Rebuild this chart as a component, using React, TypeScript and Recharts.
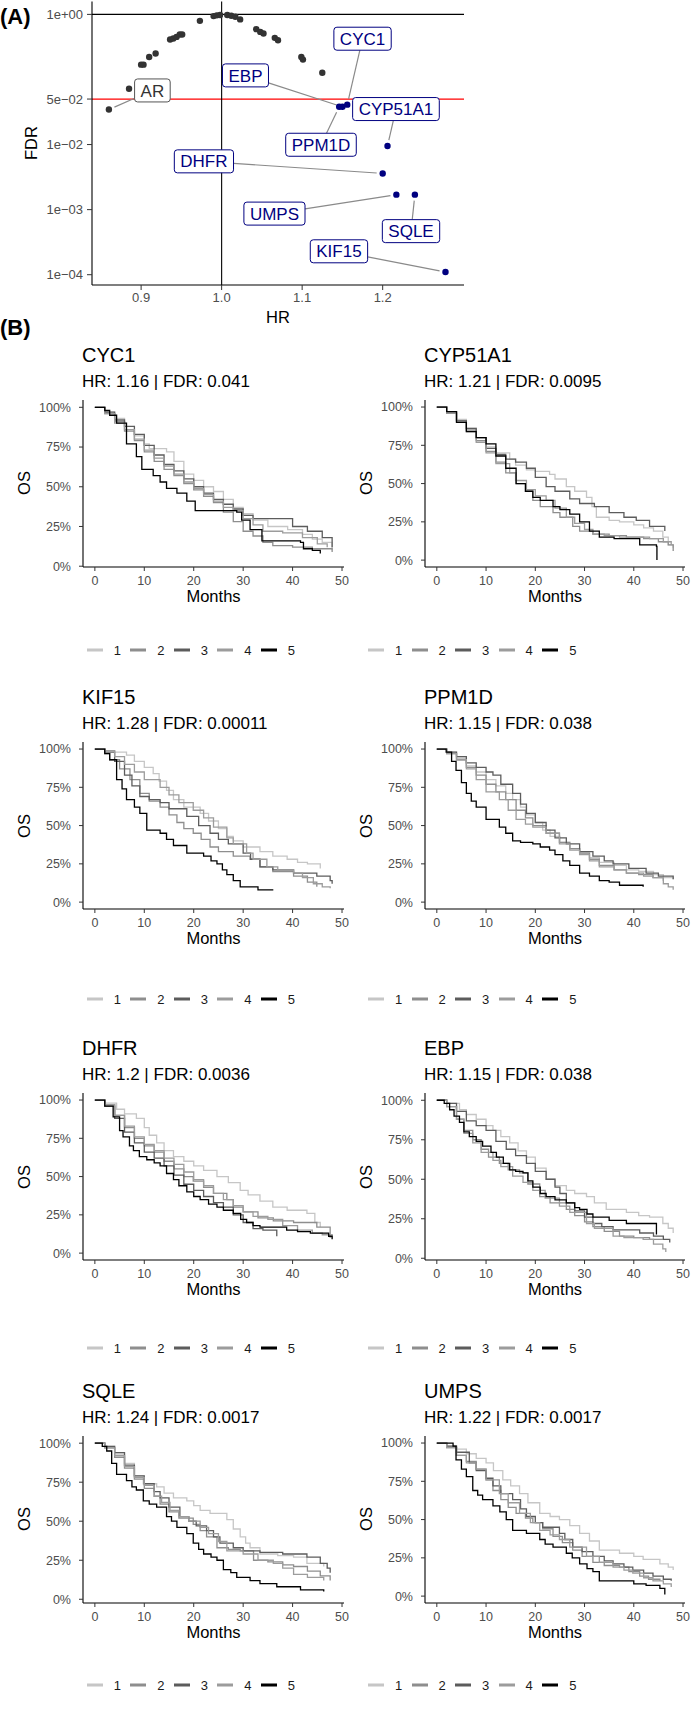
import React from "react";
import { ScatterChart, Scatter, LineChart, Line, XAxis, YAxis, ReferenceLine } from "recharts";

const FONT = '"Liberation Sans", Arial, Helvetica, sans-serif';

// ---------- panel A : volcano-like HR vs FDR ----------
const hrTicks = [0.9, 1.0, 1.1, 1.2];
const fdrTicks = [1e-4, 1e-3, 1e-2, 5e-2, 1];

// genes that did not pass (AR first)
const otherHR = [0.86, 0.885, 0.9, 0.903, 0.91, 0.918, 0.936, 0.94, 0.944, 0.948, 0.951, 0.973, 0.99, 0.994, 0.998, 1.007, 1.012, 1.017, 1.023, 1.043, 1.048, 1.052, 1.066, 1.07, 1.099, 1.101, 1.125];
const otherFDR = [0.0345, 0.072, 0.169, 0.169, 0.221, 0.25, 0.411, 0.426, 0.451, 0.491, 0.491, 0.796, 0.942, 0.966, 0.977, 0.977, 0.955, 0.918, 0.838, 0.593, 0.538, 0.509, 0.436, 0.401, 0.221, 0.202, 0.127];

const sigGenes = ["PPM1D", "EBP", "CYC1", "CYP51A1", "DHFR", "UMPS", "SQLE", "KIF15"];
const sigHR = [1.146, 1.15, 1.156, 1.206, 1.2, 1.217, 1.24, 1.278];
const sigFDR = [0.038, 0.038, 0.041, 0.0095, 0.0036, 0.0017, 0.0017, 0.00011];

// where the repelled labels sit (data units)
const labelGenes = ["CYC1", "EBP", "CYP51A1", "PPM1D", "DHFR", "UMPS", "SQLE", "KIF15", "AR"];
const labelAtHR = [1.175, 1.0296, 1.2165, 1.1234, 0.978, 1.0656, 1.2352, 1.1457, 0.914];
const labelAtFDR = [0.423, 0.1155, 0.0351, 0.00993, 0.00552, 0.000869, 0.000467, 0.000229, 0.0678];

// ---------- panel B : KM curves, [month, surv, month, surv, ...] per group ----------
const groupNames = ["1", "2", "3", "4", "5"];
const groupColors = ["#c6c6c6", "#8e8e8e", "#5c5c5c", "#9c9c9c", "#000000"];
const monthTicks = [0, 10, 20, 30, 40, 50];
const survTicks = [0, 0.25, 0.5, 0.75, 1];

const cyc1 = [
  [0, 1, 2, 0.97, 4, 0.93, 6, 0.86, 8, 0.82, 10, 0.77, 11, 0.74, 14.5, 0.72, 16, 0.66, 18, 0.58, 20, 0.54, 22, 0.5, 24, 0.47, 26, 0.42, 28, 0.37, 30, 0.33, 32, 0.29, 35, 0.25, 39, 0.23, 42, 0.2, 44, 0.17, 46, 0.15, 48, 0.1],
  [0, 1, 2, 0.96, 4, 0.91, 6, 0.85, 8, 0.79, 10, 0.72, 12, 0.66, 14, 0.61, 16, 0.57, 18, 0.52, 20, 0.48, 22, 0.44, 24, 0.4, 26, 0.34, 28, 0.28, 30, 0.22, 32, 0.19, 34, 0.15, 36, 0.13, 40, 0.12, 44, 0.11, 48, 0.09],
  [0, 1, 2, 0.97, 4, 0.92, 6, 0.88, 8, 0.83, 10, 0.76, 12, 0.7, 14, 0.64, 16, 0.6, 18, 0.55, 20, 0.5, 22, 0.46, 24, 0.42, 26, 0.39, 28, 0.36, 30, 0.32, 32, 0.3, 36, 0.3, 40, 0.25, 43, 0.22, 46, 0.18, 48, 0.12],
  [0, 1, 2, 0.96, 4, 0.9, 6, 0.86, 8, 0.8, 10, 0.73, 12, 0.68, 14, 0.63, 16, 0.58, 18, 0.53, 20, 0.49, 22, 0.45, 24, 0.41, 26, 0.37, 28, 0.35, 30, 0.3, 32, 0.26, 34, 0.22, 38, 0.21, 42, 0.18, 45, 0.14, 47, 0.12],
  [0, 1, 2, 0.98, 3, 0.95, 4.4, 0.9, 6.4, 0.77, 8.4, 0.69, 9.5, 0.61, 11.8, 0.57, 13.2, 0.53, 14.5, 0.49, 16.6, 0.46, 18.6, 0.41, 20.3, 0.35, 28.7, 0.34, 29.7, 0.29, 31.4, 0.23, 33.8, 0.16, 41.6, 0.15, 42.2, 0.11, 44, 0.1, 45.6, 0.08],
];
const cyp51a1 = [
  [0, 1, 2, 0.97, 4, 0.92, 6, 0.86, 8, 0.8, 10, 0.74, 12, 0.7, 14.8, 0.66, 16, 0.62, 18.2, 0.59, 20, 0.58, 22.9, 0.56, 24, 0.53, 26.3, 0.48, 28, 0.45, 30.4, 0.41, 31.5, 0.35, 32.4, 0.28, 35, 0.26, 37.1, 0.25, 40, 0.23, 42, 0.21, 44, 0.19, 45.9, 0.15, 47, 0.1, 48, 0.08],
  [0, 1, 2, 0.97, 4, 0.91, 6, 0.85, 8, 0.78, 10, 0.71, 12, 0.64, 14, 0.57, 16.1, 0.5, 18, 0.45, 19.5, 0.39, 21, 0.35, 23.6, 0.31, 25, 0.28, 27.6, 0.22, 29, 0.19, 31.7, 0.17, 35, 0.16, 38.5, 0.15, 42, 0.14, 45, 0.12, 47, 0.1, 48, 0.06],
  [0, 1, 2, 0.96, 4, 0.91, 6, 0.86, 8, 0.8, 10, 0.73, 12, 0.69, 14, 0.66, 16, 0.64, 18.2, 0.6, 20, 0.54, 22.2, 0.48, 24, 0.45, 27, 0.4, 29, 0.37, 32, 0.35, 35, 0.31, 38, 0.28, 40.5, 0.26, 43.2, 0.22, 46.3, 0.19],
  [0, 1, 2, 0.96, 4, 0.9, 6, 0.84, 8, 0.77, 10, 0.7, 12, 0.63, 14.8, 0.57, 16, 0.52, 18.2, 0.46, 20, 0.42, 22.2, 0.39, 24, 0.34, 26.3, 0.28, 28, 0.24, 30, 0.2, 31.7, 0.17, 34, 0.16, 37.1, 0.15, 40, 0.15, 43.2, 0.14, 46, 0.12, 47.6, 0.1],
  [0, 1, 2, 0.97, 4, 0.9, 6, 0.84, 8, 0.8, 10, 0.76, 12, 0.68, 14, 0.6, 16.1, 0.5, 18, 0.45, 19.5, 0.41, 21, 0.39, 23.6, 0.35, 25, 0.33, 27, 0.3, 29, 0.25, 31, 0.19, 33, 0.15, 36, 0.14, 39.8, 0.14, 41.2, 0.1, 44.6, 0.09, 44.7, 0],
];
const kif15 = [
  [0, 1, 2, 0.99, 4, 0.98, 6.4, 0.96, 8, 0.92, 10, 0.88, 11.8, 0.84, 13, 0.79, 14.5, 0.73, 15.9, 0.67, 18, 0.62, 21.3, 0.58, 23, 0.53, 25, 0.48, 26.7, 0.43, 28, 0.4, 30, 0.36, 33.4, 0.33, 36, 0.3, 38.9, 0.28, 41, 0.26, 43, 0.25, 45.6, 0.22],
  [0, 1, 2, 0.97, 3, 0.93, 5, 0.87, 7.1, 0.8, 9.1, 0.71, 11, 0.66, 13.2, 0.62, 15, 0.57, 16.6, 0.52, 18, 0.48, 19.9, 0.45, 21.5, 0.41, 23.3, 0.36, 25, 0.33, 28, 0.3, 31.4, 0.28, 33.4, 0.23, 36, 0.2, 40.2, 0.17, 43, 0.13, 44.9, 0.1],
  [0, 1, 2, 0.98, 4, 0.92, 6, 0.83, 7.5, 0.76, 9.1, 0.69, 11, 0.67, 13.2, 0.65, 15, 0.61, 18.6, 0.56, 21, 0.5, 23.3, 0.45, 25, 0.41, 27, 0.38, 30, 0.32, 31.5, 0.28, 33.4, 0.23, 36, 0.21, 40.2, 0.19, 44.9, 0.17, 47.6, 0.14, 48, 0.12],
  [0, 1, 2, 0.99, 4, 0.95, 6, 0.9, 8, 0.85, 10, 0.8, 13.2, 0.75, 15, 0.7, 17, 0.65, 19.9, 0.6, 22, 0.55, 24, 0.49, 26.7, 0.42, 28, 0.38, 30.7, 0.32, 32, 0.28, 34.8, 0.23, 37, 0.21, 40.2, 0.19, 42, 0.16, 44.2, 0.12, 46, 0.1, 47.6, 0.09],
  [0, 1, 2, 0.97, 3, 0.93, 4.4, 0.8, 5.5, 0.74, 6.4, 0.67, 8, 0.62, 9.1, 0.58, 10.5, 0.47, 13.2, 0.45, 14.5, 0.41, 15.9, 0.37, 18.6, 0.32, 22, 0.3, 23.5, 0.27, 24.7, 0.25, 25.8, 0.21, 26.7, 0.18, 28, 0.14, 29.4, 0.1, 33, 0.08, 36.1, 0.08],
];
const ppm1d = [
  [0, 1, 2, 0.98, 4, 0.94, 6, 0.89, 8, 0.85, 10, 0.8, 12, 0.76, 14, 0.71, 15.4, 0.67, 17, 0.62, 18.2, 0.57, 20, 0.52, 21.5, 0.47, 23, 0.43, 25, 0.39, 27, 0.35, 29, 0.32, 31, 0.29, 33, 0.26, 36, 0.24, 38.5, 0.21, 41, 0.2, 44, 0.18, 46, 0.16, 48, 0.15],
  [0, 1, 2, 0.97, 4, 0.93, 6, 0.88, 8, 0.83, 10, 0.77, 12, 0.72, 14, 0.67, 16.1, 0.6, 18, 0.55, 19.5, 0.5, 22.2, 0.45, 24.9, 0.39, 27, 0.35, 29, 0.32, 31, 0.28, 33, 0.24, 36, 0.21, 38.5, 0.19, 41, 0.18, 43.9, 0.16, 46, 0.14],
  [0, 1, 2, 0.98, 4, 0.95, 6, 0.91, 8, 0.88, 10, 0.85, 11.4, 0.83, 13, 0.77, 15.4, 0.71, 17, 0.64, 18.2, 0.58, 20, 0.52, 22.2, 0.47, 24, 0.42, 26.3, 0.38, 29, 0.33, 31.7, 0.3, 34, 0.27, 35.8, 0.25, 39, 0.22, 42.5, 0.19, 45, 0.17, 48, 0.15],
  [0, 1, 2, 0.97, 4, 0.93, 6, 0.87, 8, 0.8, 10, 0.72, 12.7, 0.67, 14.5, 0.6, 16.1, 0.54, 18, 0.51, 19.5, 0.49, 22.2, 0.45, 24.9, 0.38, 27, 0.34, 29, 0.31, 31, 0.27, 33, 0.23, 36, 0.21, 38.5, 0.19, 42, 0.17, 43.9, 0.16, 46, 0.12, 47, 0.1, 48, 0.08],
  [0, 1, 1.9, 0.98, 3, 0.92, 3.9, 0.86, 5, 0.78, 6, 0.71, 7, 0.66, 8, 0.62, 10, 0.54, 12.7, 0.49, 14, 0.45, 15.4, 0.4, 17, 0.39, 19.5, 0.38, 21, 0.36, 22.9, 0.34, 24, 0.31, 25.6, 0.27, 27, 0.24, 29, 0.19, 31, 0.17, 33, 0.14, 35, 0.13, 37.1, 0.11, 41.9, 0.1],
];
const dhfr = [
  [0, 1, 2, 0.98, 4.4, 0.94, 6, 0.91, 8.4, 0.88, 10, 0.82, 11, 0.77, 12.5, 0.72, 14, 0.67, 15.9, 0.63, 18, 0.6, 20, 0.57, 22, 0.54, 24.7, 0.5, 27, 0.46, 29.4, 0.41, 31, 0.38, 33.4, 0.34, 36, 0.3, 38.9, 0.28, 42.9, 0.26, 44.5, 0.2, 45.6, 0.17],
  [0, 1, 2, 0.97, 4, 0.9, 6, 0.82, 8, 0.75, 10, 0.7, 12, 0.66, 14, 0.6, 16, 0.55, 18, 0.5, 19.9, 0.47, 22, 0.43, 24, 0.39, 26.7, 0.35, 28, 0.3, 30, 0.27, 33, 0.23, 36.1, 0.21, 40.2, 0.2, 44.9, 0.17, 47.6, 0.1],
  [0, 1, 2, 0.96, 4, 0.88, 6, 0.79, 8, 0.72, 10, 0.66, 12, 0.62, 14, 0.57, 16, 0.51, 18, 0.45, 20, 0.41, 22, 0.37, 24, 0.33, 26, 0.3, 28, 0.25, 30, 0.2, 32, 0.16, 34, 0.15, 36.8, 0.11],
  [0, 1, 2, 0.97, 4, 0.9, 6, 0.83, 8, 0.76, 10, 0.71, 12, 0.67, 14, 0.62, 16, 0.58, 18, 0.53, 20, 0.48, 22, 0.44, 24, 0.39, 26, 0.35, 28, 0.31, 30, 0.27, 32, 0.24, 35, 0.22, 38, 0.18, 41, 0.15, 44, 0.13, 46, 0.12, 48, 0.1],
  [0, 1, 2, 0.96, 3.7, 0.89, 5, 0.8, 5.7, 0.76, 7, 0.7, 7.8, 0.67, 9, 0.63, 10.5, 0.61, 12, 0.59, 13.2, 0.57, 14.5, 0.52, 15.9, 0.48, 17, 0.44, 18.6, 0.4, 20, 0.37, 21.3, 0.35, 23, 0.32, 24.7, 0.3, 26, 0.28, 28, 0.26, 29.5, 0.22, 30.7, 0.2, 32, 0.18, 33.4, 0.17, 38.8, 0.15, 41, 0.14, 43.6, 0.13, 47.3, 0.11, 48, 0.09],
];
const ebp = [
  [0, 1, 2, 0.98, 4.6, 0.94, 6, 0.91, 8, 0.88, 10, 0.84, 11.4, 0.81, 13, 0.77, 14.8, 0.73, 16.5, 0.68, 18.2, 0.64, 20, 0.57, 22.2, 0.5, 24, 0.46, 26.3, 0.43, 28, 0.41, 30.4, 0.39, 32, 0.35, 34.4, 0.31, 38.5, 0.29, 41, 0.27, 43.2, 0.26, 45.9, 0.22, 47, 0.19, 48, 0.16],
  [0, 1, 2, 0.96, 4, 0.88, 5.5, 0.81, 7.3, 0.75, 9, 0.69, 10.5, 0.64, 12.7, 0.6, 14.5, 0.56, 16.8, 0.54, 18.5, 0.47, 20.9, 0.39, 23, 0.35, 26.3, 0.31, 28, 0.27, 30, 0.23, 31.7, 0.2, 34, 0.17, 37.1, 0.14, 40, 0.13, 43.2, 0.12, 45.9, 0.12],
  [0, 1, 2, 0.98, 4, 0.93, 6, 0.87, 8, 0.84, 10, 0.81, 12, 0.74, 14.1, 0.69, 16, 0.65, 18.2, 0.6, 20, 0.55, 22.2, 0.5, 24, 0.45, 25, 0.41, 26.3, 0.35, 28, 0.3, 30, 0.26, 31.7, 0.22, 33.5, 0.2, 35.8, 0.18, 41.2, 0.16, 44, 0.14, 46, 0.12, 47.3, 0.1],
  [0, 1, 2, 0.96, 4, 0.88, 5.5, 0.79, 7.3, 0.73, 9, 0.67, 11.4, 0.62, 13, 0.58, 15.4, 0.52, 17.5, 0.48, 19.5, 0.43, 22, 0.38, 24.9, 0.33, 27, 0.29, 30.4, 0.22, 32, 0.19, 35.8, 0.14, 38, 0.13, 41.9, 0.12, 44, 0.09, 45.9, 0.06, 46.5, 0.04],
  [0, 1, 1.5, 0.98, 2.6, 0.94, 3.5, 0.9, 4.6, 0.86, 5.5, 0.8, 6.6, 0.77, 8, 0.74, 9.3, 0.71, 11, 0.67, 12.1, 0.64, 13.5, 0.6, 14.8, 0.56, 16, 0.55, 17.5, 0.54, 18.5, 0.49, 19.5, 0.45, 21, 0.41, 22.2, 0.39, 24, 0.37, 26.3, 0.35, 28, 0.32, 29, 0.31, 30.5, 0.28, 31.7, 0.26, 35, 0.24, 38.5, 0.22, 43.9, 0.22, 44.6, 0.15],
];
const sqle = [
  [0, 1, 2, 0.98, 4, 0.93, 6, 0.87, 8, 0.79, 9.8, 0.74, 12.5, 0.72, 14, 0.68, 15.9, 0.65, 18.6, 0.63, 20, 0.6, 21.3, 0.57, 23.3, 0.55, 26.7, 0.51, 28, 0.45, 29.4, 0.4, 30.5, 0.36, 31.4, 0.33, 33.4, 0.29, 37, 0.28, 40.2, 0.27, 42.9, 0.23, 46.3, 0.21],
  [0, 1, 2, 0.97, 4, 0.91, 6, 0.84, 8, 0.77, 10, 0.71, 12, 0.66, 13.2, 0.61, 15, 0.56, 17, 0.52, 19.9, 0.48, 21.3, 0.44, 22.6, 0.4, 24.7, 0.33, 27, 0.32, 29.4, 0.31, 32.1, 0.25, 35, 0.24, 38, 0.22, 40.2, 0.21, 43, 0.18, 45.6, 0.15, 47.6, 0.12],
  [0, 1, 2, 0.98, 4, 0.94, 6, 0.86, 8, 0.79, 10, 0.74, 12, 0.69, 13.2, 0.65, 15, 0.59, 17.2, 0.53, 19, 0.5, 20.5, 0.47, 22.6, 0.44, 24, 0.4, 25.3, 0.36, 28, 0.33, 30, 0.31, 33.4, 0.3, 38, 0.29, 42.9, 0.27, 45.6, 0.23, 47, 0.2, 47.6, 0.17],
  [0, 1, 2, 0.97, 4, 0.92, 6, 0.85, 8, 0.78, 10, 0.73, 12, 0.66, 13.5, 0.62, 15.2, 0.57, 17, 0.53, 19, 0.5, 21.3, 0.46, 23, 0.42, 25, 0.37, 26.7, 0.31, 30, 0.29, 33, 0.25, 36.1, 0.23, 38, 0.2, 40.2, 0.16, 43, 0.14, 46.3, 0.12],
  [0, 1, 1.5, 0.98, 2.4, 0.95, 3.4, 0.87, 4.4, 0.8, 6.4, 0.76, 7.5, 0.72, 8.4, 0.7, 9.8, 0.63, 11, 0.61, 12.5, 0.59, 14.5, 0.53, 15.5, 0.5, 16.6, 0.46, 18.6, 0.42, 19.9, 0.36, 21, 0.32, 22, 0.29, 23.5, 0.27, 24.7, 0.25, 26, 0.19, 27.5, 0.17, 28.7, 0.14, 31.4, 0.12, 33.4, 0.1, 36.8, 0.08, 41.6, 0.06, 46.3, 0.05],
];
const umps = [
  [0, 1, 2, 0.98, 4, 0.96, 6, 0.93, 8, 0.9, 10, 0.87, 11.5, 0.82, 13.4, 0.76, 15, 0.72, 16.8, 0.67, 18.5, 0.61, 20.9, 0.54, 23, 0.52, 24.9, 0.5, 27, 0.46, 29, 0.41, 31, 0.36, 33, 0.3, 37.1, 0.28, 40, 0.26, 41.9, 0.24, 45.3, 0.21, 47, 0.19, 48, 0.17],
  [0, 1, 2, 0.97, 4, 0.92, 6, 0.88, 8, 0.83, 10, 0.76, 11.4, 0.69, 13, 0.63, 14.5, 0.58, 16.1, 0.54, 18, 0.51, 19.5, 0.48, 21.5, 0.44, 23.6, 0.39, 25.5, 0.35, 27.6, 0.3, 29.5, 0.26, 31.7, 0.22, 34, 0.2, 37.1, 0.19, 39, 0.16, 41.2, 0.13, 43, 0.11, 45.3, 0.1],
  [0, 1, 2, 0.98, 4, 0.94, 6.6, 0.87, 8, 0.82, 10, 0.77, 11.4, 0.72, 13, 0.67, 15.4, 0.63, 17, 0.57, 18.2, 0.52, 20, 0.48, 21.5, 0.45, 24.9, 0.41, 26, 0.37, 27.6, 0.32, 29.5, 0.29, 31.7, 0.26, 34, 0.23, 35.8, 0.21, 38, 0.19, 39.8, 0.17, 42, 0.15, 43.9, 0.13, 46, 0.11, 47.6, 0.1],
  [0, 1, 2, 0.97, 4, 0.92, 6, 0.87, 8, 0.83, 10, 0.76, 12.7, 0.67, 14.5, 0.61, 16.8, 0.54, 19, 0.48, 20.9, 0.43, 23, 0.4, 24.9, 0.37, 27, 0.32, 30.4, 0.26, 33, 0.22, 35.8, 0.19, 38, 0.17, 39.8, 0.15, 42, 0.12, 43.9, 0.1, 46, 0.08, 47.6, 0.06],
  [0, 1, 2, 1, 3.3, 0.98, 3.9, 0.89, 5, 0.83, 6, 0.78, 7.3, 0.69, 8.3, 0.66, 9.3, 0.63, 11.4, 0.59, 12.8, 0.55, 14.1, 0.5, 15.4, 0.43, 18.2, 0.41, 20.9, 0.37, 22, 0.34, 23.6, 0.32, 26.3, 0.28, 27.5, 0.25, 29, 0.21, 30.5, 0.18, 31.7, 0.16, 33, 0.1, 38.5, 0.1, 40, 0.08, 42.5, 0.07, 45.3, 0.05, 46.3, 0.01],
];

const kmGenes = ["CYC1", "CYP51A1", "KIF15", "PPM1D", "DHFR", "EBP", "SQLE", "UMPS"];
const kmHR = [1.16, 1.21, 1.28, 1.15, 1.2, 1.15, 1.24, 1.22];
const kmFDR = [0.041, 0.0095, 0.00011, 0.038, 0.0036, 0.038, 0.0017, 0.0017];
const kmCurves = [cyc1, cyp51a1, kif15, ppm1d, dhfr, ebp, sqle, umps];
const kmYMin = [-0.005, -0.045, -0.045, -0.045, -0.045, -0.011, -0.024, -0.045];

// layout
const Y_MAX = 1.046;
const PANEL_H = 167;
const rowT100 = [407, 749.3, 1100.3, 1443];
const rowLegendY = [650, 999, 1348, 1685];
const colLeft = [0, 342];
const colPlotRight = [344, 685];
const colLegendX = [86.7, 368];
const Y_AXIS_W = 83;
const RIGHT_PAD = 11;

const NAVY = "#000080";

const charW: Record<string, number> = {
  A: 0.667, B: 0.667, C: 0.722, D: 0.722, E: 0.667, F: 0.611, H: 0.722, I: 0.278, K: 0.667,
  L: 0.556, M: 0.833, P: 0.667, Q: 0.778, R: 0.722, S: 0.667, U: 0.722, Y: 0.667,
};
const textW = (s: string, size: number) =>
  s.split("").reduce((a, c) => a + (charW[c] ?? 0.556), 0) * size;

const LABEL_SIZE = 17;
const boxOf = (gene: string) => ({ w: textW(gene, LABEL_SIZE) + 12, h: 23 });

const sci = (v: number) => {
  const e = Math.floor(Math.log10(v) + 1e-9);
  const m = Math.round(v / Math.pow(10, e));
  return `${m}e${e < 0 ? "\u2212" : "+"}${String(Math.abs(e)).padStart(2, "0")}`;
};
const pct = (v: number) => `${Math.round(v * 100)}%`;

function Txt(props: any) {
  const { x, y, size, children, bold, anchor, rotate, color } = props;
  const tx = anchor === "middle" ? "-50%" : "0";
  return (
    <div
      style={{
        position: "absolute", left: x, top: y, fontSize: size, lineHeight: 1,
        fontWeight: bold ? 700 : 400, color: color || "#000", whiteSpace: "nowrap",
        transform: `translate(${tx}, -50%)${rotate ? " rotate(-90deg)" : ""}`,
      }}
    >
      {children}
    </div>
  );
}

// leader from the point to the edge of the label box
const leaderShape = (gene: string) => (p: any) => {
  const { x1, y1, x2, y2 } = p;
  if (x1 == null) return <g />;
  const dx = x2 - x1, dy = y2 - y1;
  const len = Math.hypot(dx, dy) || 1;
  const { w, h } = boxOf(gene);
  const k = Math.min(Math.abs(dx) > 0 ? w / 2 / Math.abs(dx) : 1e9, Math.abs(dy) > 0 ? h / 2 / Math.abs(dy) : 1e9);
  const ex = x2 - dx * k, ey = y2 - dy * k;
  const gap = 6;
  return (
    <line x1={x1 + (dx / len) * gap} y1={y1 + (dy / len) * gap} x2={ex} y2={ey}
      stroke="#8a8a8a" strokeWidth={1.2} />
  );
};

const LabelBox = (p: any) => {
  const { cx, cy, payload } = p;
  const { w, h } = boxOf(payload.gene);
  return (
    <g>
      <rect x={cx - w / 2} y={cy - h / 2} width={w} height={h} rx={3} ry={3}
        fill="#fff" stroke={payload.border} strokeWidth={1} />
      <text x={cx} y={cy + LABEL_SIZE * 0.36} textAnchor="middle" fontSize={LABEL_SIZE}
        fill={payload.color} fontFamily={FONT}>{payload.gene}</text>
    </g>
  );
};

function pointOf(gene: string) {
  const i = sigGenes.indexOf(gene);
  if (i >= 0) return { hr: sigHR[i], fdr: sigFDR[i] };
  return { hr: otherHR[0], fdr: otherFDR[0] }; // AR
}

function PanelA() {
  const others = otherHR.map((hr, i) => ({ hr, fdr: otherFDR[i] }));
  const sig = sigHR.map((hr, i) => ({ hr, fdr: sigFDR[i] }));
  const labels = labelGenes.map((gene, i) => ({
    gene, hr: labelAtHR[i], fdr: labelAtFDR[i],
    color: gene === "AR" ? "#333333" : NAVY,
    border: gene === "AR" ? "#555555" : NAVY,
  }));
  const axisTick = { fill: "#4d4d4d", fontSize: 13, fontFamily: FONT };
  return (
    <div style={{ position: "absolute", left: 0, top: 0 }}>
      <ScatterChart width={697} height={330} margin={{ top: 1.5, right: 233, bottom: 0, left: 0 }}>
        <XAxis type="number" dataKey="hr" domain={[0.839, 1.301]} allowDataOverflow ticks={hrTicks}
          tickFormatter={(v: number) => v.toFixed(1)} interval={0} height={45} tickSize={5} tickMargin={3}
          axisLine={{ stroke: "#000", strokeWidth: 1.1 }} tickLine={{ stroke: "#333" }} tick={axisTick} />
        <YAxis type="number" dataKey="fdr" scale="log" domain={[Math.pow(10, -4.158), Math.pow(10, 0.198)]}
          allowDataOverflow ticks={fdrTicks} tickFormatter={sci} interval={0} width={92} tickSize={5} tickMargin={4}
          axisLine={{ stroke: "#000", strokeWidth: 1.1 }} tickLine={{ stroke: "#333" }} tick={axisTick} />
        <ReferenceLine y={1} stroke="#000" strokeWidth={1.1} />
        <ReferenceLine y={0.05} stroke="#ff0000" strokeWidth={1.2} />
        <ReferenceLine x={1} stroke="#000" strokeWidth={1.1} />
        {labelGenes.map((g, i) => {
          const pt = pointOf(g);
          return (
            <ReferenceLine key={g}
              segment={[{ x: pt.hr, y: pt.fdr }, { x: labelAtHR[i], y: labelAtFDR[i] }]}
              stroke="#8a8a8a" shape={leaderShape(g)} />
          );
        })}
        <Scatter data={others} fill="#333333" isAnimationActive={false}
          shape={(p: any) => <circle cx={p.cx} cy={p.cy} r={3.2} fill="#333333" />} />
        <Scatter data={sig} fill={NAVY} isAnimationActive={false}
          shape={(p: any) => <circle cx={p.cx} cy={p.cy} r={3.2} fill={NAVY} />} />
        <Scatter data={labels} isAnimationActive={false} shape={LabelBox} />
      </ScatterChart>
      <Txt x={0} y={17} size={22} bold>(A)</Txt>
      <Txt x={31} y={143} size={16.5} rotate anchor="middle">FDR</Txt>
      <Txt x={278} y={317} size={16.5} anchor="middle">HR</Txt>
    </div>
  );
}

function KMLegend({ x, y }: { x: number; y: number }) {
  return (
    <div style={{ position: "absolute", left: x, top: y, transform: "translateY(-50%)", display: "flex",
      alignItems: "center", fontSize: 13, lineHeight: 1, color: "#1a1a1a" }}>
      {groupNames.map((n, i) => (
        <React.Fragment key={n}>
          <span style={{ display: "inline-block", width: 16, height: 2.2, background: groupColors[i] }} />
          <span style={{ marginLeft: 11, marginRight: 9.3 }}>{n}</span>
        </React.Fragment>
      ))}
    </div>
  );
}

function KMPanel({ idx }: { idx: number }) {
  const row = Math.floor(idx / 2);
  const col = idx % 2;
  const yMin = kmYMin[idx];
  const t100 = rowT100[row];
  const top = t100 - (PANEL_H * (Y_MAX - 1)) / (Y_MAX - yMin);
  const left = colLeft[col];
  const plotL = left + Y_AXIS_W;
  const plotR = colPlotRight[col];
  const width = plotR - left + RIGHT_PAD;
  const series = kmCurves[idx].map((c) => {
    const pts: { t: number; s: number }[] = [];
    for (let i = 0; i < c.length; i += 2) pts.push({ t: c[i], s: c[i + 1] });
    return pts;
  });
  const tick = { fill: "#4d4d4d", fontSize: 12.5, fontFamily: FONT };
  return (
    <>
      <Txt x={plotL - 1} y={t100 - 52} size={20}>{kmGenes[idx]}</Txt>
      <Txt x={plotL - 1} y={t100 - 26.5} size={17}>{`HR: ${kmHR[idx]} | FDR: ${kmFDR[idx]}`}</Txt>
      <div style={{ position: "absolute", left, top }}>
        <LineChart width={width} height={PANEL_H + 25} margin={{ top: 0, right: RIGHT_PAD, bottom: 0, left: 0 }}>
          <XAxis type="number" dataKey="t" domain={[-2.4, 50.4]} allowDataOverflow ticks={monthTicks}
            interval={0} height={25} tickSize={4} tickMargin={5}
            axisLine={{ stroke: "#000", strokeWidth: 1.1 }} tickLine={{ stroke: "#333" }} tick={tick} />
          <YAxis type="number" domain={[yMin, Y_MAX]} allowDataOverflow ticks={survTicks} tickFormatter={pct}
            interval={0} width={Y_AXIS_W} tickSize={4} tickMargin={8}
            axisLine={{ stroke: "#000", strokeWidth: 1.1 }} tickLine={{ stroke: "#333" }} tick={tick} />
          {series.map((d, i) => (
            <Line key={i} data={d} dataKey="s" type="stepAfter" stroke={groupColors[i]} strokeWidth={1.3}
              dot={false} activeDot={false} isAnimationActive={false} />
          ))}
        </LineChart>
      </div>
      <Txt x={left + 24} y={top + PANEL_H / 2} size={16.5} rotate anchor="middle">OS</Txt>
      <Txt x={(plotL + plotR) / 2} y={top + PANEL_H + 29} size={16.5} anchor="middle">Months</Txt>
      <KMLegend x={colLegendX[col]} y={rowLegendY[row]} />
    </>
  );
}

export default function App() {
  return (
    <div style={{ position: "relative", width: 697, height: 1716, fontFamily: FONT, background: "#fff", overflow: "hidden" }}>
      <style>{"body{margin:0}"}</style>
      <PanelA />
      <Txt x={0} y={328} size={22} bold>(B)</Txt>
      {kmGenes.map((g, i) => <KMPanel key={g} idx={i} />)}
    </div>
  );
}
